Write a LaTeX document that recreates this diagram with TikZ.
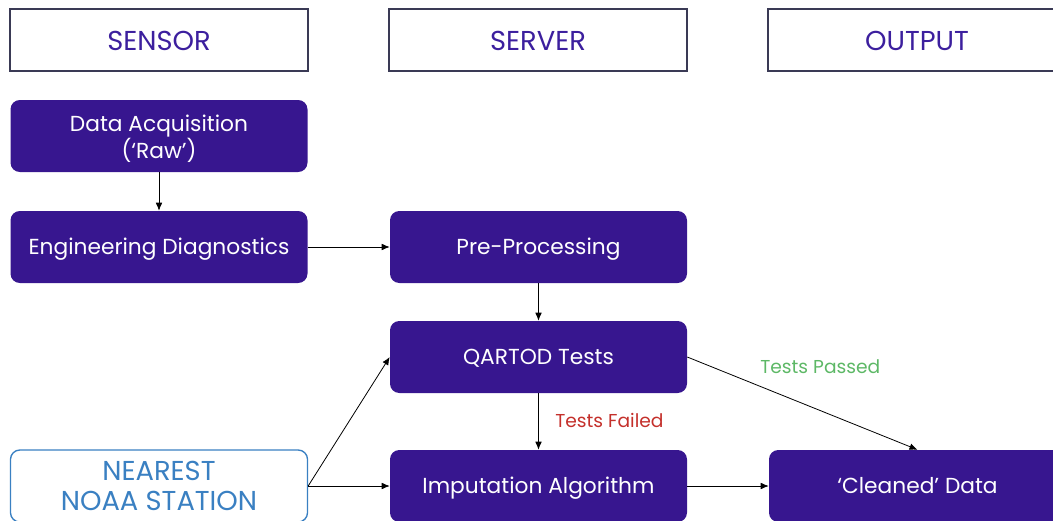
\documentclass[tikz,border=0pt]{standalone}
\usepackage{fontspec}
\setmainfont{Poppins}
\usetikzlibrary{arrows.meta}
\definecolor{boxfill}{HTML}{37168F}
\definecolor{headtext}{HTML}{3C1F9E}
\definecolor{headline}{HTML}{3A3A55}
\definecolor{noaa}{HTML}{3A80C2}
\definecolor{failred}{HTML}{C4302B}
\definecolor{passgreen}{HTML}{5DB866}
\tikzset{
  header/.style={draw=headline, line width=1.5pt, fill=white, minimum width=223.5pt, minimum height=46.5pt, text=headtext, font=\fontsize{20.5}{24}\selectfont, inner sep=0pt, text height=15pt, text depth=0pt},
  darkbox/.style={fill=boxfill, rounded corners=7pt, minimum width=222.75pt, minimum height=54pt, text=white, font=\fontsize{16.3}{20.3}\selectfont, align=center, inner sep=0pt, text height=11.4pt, text depth=0pt},
  noaabox/.style={draw=noaa, line width=1pt, fill=white, rounded corners=7pt, minimum width=222.75pt, minimum height=54pt, text=noaa, font=\fontsize{20.5}{23}\selectfont, align=center, inner sep=0pt},
  conn/.style={draw=black, line width=0.6pt, -{Latex[length=6pt,width=5pt]}},
  lbl/.style={font=\fontsize{14}{16}\selectfont, inner sep=0pt}
}
\begin{document}
\begin{tikzpicture}[x=0.75pt,y=-0.75pt]
\useasboundingbox (0,0) rectangle (1053,521);
\clip (0,0) rectangle (1053,521);
\node[header] (sensor) at (159,40) {SENSOR};
\node[header] (server) at (538,40) {SERVER};
\node[header] (output) at (917,40) {OUTPUT};
\node[darkbox, text height=33.5pt] (daq) at (159,136) {Data Acquisition\\(‘Raw’)};
\node[darkbox] (eng) at (159,247) {Engineering Diagnostics};
\node[darkbox] (pre) at (538.5,247) {Pre-Processing};
\node[darkbox] (qa) at (538.5,357) {QARTOD Tests};
\node[darkbox] (imp) at (538.5,486) {Imputation Algorithm};
\node[darkbox] (cl) at (917.5,486) {‘Cleaned’ Data};
\node[noaabox] (near) at (159,486) {NEAREST\\NOAA STATION};
\draw[conn] (daq) -- (eng);
\draw[conn] (eng) -- (pre);
\draw[conn] (pre) -- (qa);
\draw[conn] (qa) -- (imp);
\draw[conn] (near.east) -- (qa.west);
\draw[conn] (near.east) -- (imp.west);
\draw[conn] (imp) -- (cl);
\draw[conn] (qa.east) -- (cl.north);
\node[lbl, text=failred, anchor=west] (failed) at (555,420) {Tests Failed};
\node[lbl, text=passgreen, anchor=west] (passed) at (760,367) {Tests Passed};
\end{tikzpicture}
\end{document}
